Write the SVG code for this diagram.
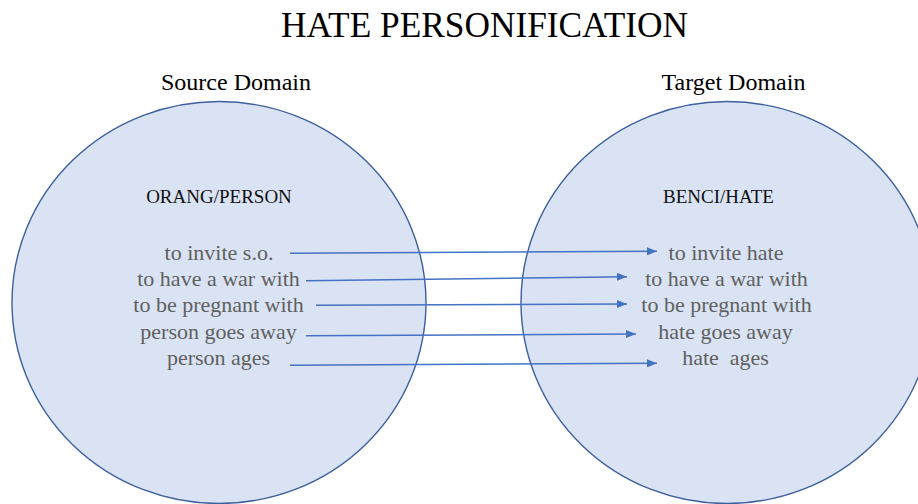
<svg xmlns="http://www.w3.org/2000/svg" width="918" height="504" viewBox="0 0 918 504">
  <style>
    .domain { fill: #dae3f3; stroke: #3c5f9e; stroke-width: 1.4; }
    .title { font-family: "Liberation Serif", "Times New Roman", serif; font-size: 35.3px; fill: #000; text-anchor: middle; }
    .heading { font-family: "Liberation Serif", "Times New Roman", serif; font-size: 24px; fill: #000; text-anchor: middle; }
    .concept { font-family: "Liberation Serif", "Times New Roman", serif; font-size: 19px; fill: #111; text-anchor: middle; }
    .item { font-family: "Liberation Serif", "Times New Roman", serif; font-size: 22px; fill: #606060; text-anchor: middle; white-space: pre; }
    .map { stroke: #4472c4; stroke-width: 1.5; fill: none; marker-end: url(#tip); }
  </style>
  <defs>
    <marker id="tip" viewBox="0 0 10 8" refX="10" refY="4" markerWidth="10" markerHeight="8" markerUnits="userSpaceOnUse" orient="auto">
      <path d="M0,0 L10,4 L0,8 Z" fill="#4472c4"/>
    </marker>
  </defs>

  <rect width="918" height="504" fill="#ffffff"/>

  <text class="title" x="484.5" y="36.5">HATE PERSONIFICATION</text>
  <text class="heading" x="236" y="90">Source Domain</text>
  <text class="heading" x="733.5" y="90">Target Domain</text>

  <!-- source domain -->
  <g id="source">
    <ellipse class="domain" cx="219" cy="302.5" rx="207" ry="201"/>
  </g>
  <!-- target domain -->
  <g id="target">
    <ellipse class="domain" cx="727" cy="302.5" rx="206" ry="201"/>
  </g>

  <!-- mappings from source to target -->
  <g id="connectors">
    <line class="map" x1="290" y1="253.3" x2="657" y2="251.3"/>
    <line class="map" x1="306" y1="280.7" x2="627" y2="276.7"/>
    <line class="map" x1="316" y1="305.3" x2="627" y2="304"/>
    <line class="map" x1="306" y1="335.7" x2="636" y2="334"/>
    <line class="map" x1="290" y1="365.3" x2="657" y2="363.3"/>
  </g>

  <g id="source-labels">
    <text class="concept" x="219" y="203">ORANG/PERSON</text>
    <text class="item" x="219" y="260">to invite s.o.</text>
    <text class="item" x="218.5" y="286">to have a war with</text>
    <text class="item" x="218.5" y="312">to be pregnant with</text>
    <text class="item" x="218.5" y="338.5">person goes away</text>
    <text class="item" x="218.5" y="364.5">person ages</text>
  </g>

  <g id="target-labels">
    <text class="concept" x="718.5" y="203">BENCI/HATE</text>
    <text class="item" x="726" y="260">to invite hate</text>
    <text class="item" x="726.5" y="286">to have a war with</text>
    <text class="item" x="726.5" y="312">to be pregnant with</text>
    <text class="item" x="725.5" y="338.5">hate goes away</text>
    <text class="item" x="725.5" y="364.5">hate  ages</text>
  </g>
</svg>
